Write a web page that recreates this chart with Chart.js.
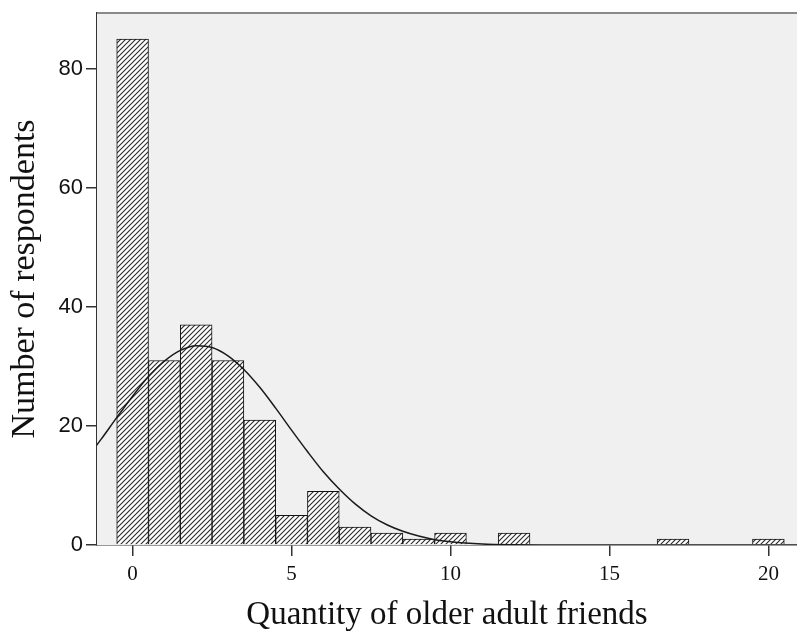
<!DOCTYPE html>
<html>
<head>
<meta charset="utf-8">
<script src="https://cdn.jsdelivr.net/npm/chart.js@4/dist/chart.umd.min.js"></script>
<style>
  html, body { margin: 0; padding: 0; background: #ffffff; }
  #wrap { width: 797px; height: 635px; position: relative; }
</style>
</head>
<body>
<div id="wrap"><canvas id="histChart"></canvas></div>
<script>
// histogram bins (number of older adult friends) and respondent counts
const binCenters = [0, 1, 2, 3, 4, 5, 6, 7, 8, 9, 10, 11, 12, 13, 14, 15, 16, 17, 18, 19, 20];
const counts = [85, 31, 37, 31, 21, 5, 9, 3, 2, 1, 2, 0, 2, 0, 0, 0, 0, 1, 0, 0, 1];

// fitted normal curve
const curveX = [-1.5, -1, -0.5, 0, 0.5, 1, 1.5, 2, 2.5, 3, 3.5, 4, 4.5, 5, 5.5, 6, 6.5, 7, 7.5, 8, 8.5, 9, 9.5, 10, 11, 12, 13, 14, 16, 18, 20, 21];
const curveY = [14.2, 17.7, 21.4, 25.0, 28.3, 30.9, 32.7, 33.5, 33.2, 31.8, 29.5, 26.5, 23.0, 19.3, 15.7, 12.3, 9.4, 6.9, 4.9, 3.4, 2.3, 1.5, 0.9, 0.55, 0.18, 0.05, 0.01, 0, 0, 0, 0, 0];

// axis ticks
const xTicks = [0, 5, 10, 15, 20];
const yTicks = [0, 20, 40, 60, 80];

// diagonal hatch fill for the bars
function makeHatch() {
    const n = 5;
    const c = document.createElement('canvas');
    c.width = n;
    c.height = n;
    const g = c.getContext('2d');
    g.fillStyle = '#ffffff';
    g.fillRect(0, 0, n, n);
    g.strokeStyle = '#2a2a2a';
    g.lineWidth = 1.1;
    g.beginPath();
    g.moveTo(0, n); g.lineTo(n, 0);
    g.moveTo(-1, 1); g.lineTo(1, -1);
    g.moveTo(n - 1, n + 1); g.lineTo(n + 1, n - 1);
    g.stroke();
    return g.createPattern(c, 'repeat');
}

// grey plot background + top frame line
const plotFrame = {
    id: 'plotFrame',
    beforeDatasetsDraw(chart) {
        const { ctx, chartArea: a } = chart;
        ctx.save();
        ctx.fillStyle = '#f0f0f0';
        ctx.fillRect(a.left, a.top, a.right - a.left, a.bottom - a.top);
        ctx.restore();
    },
    afterDraw(chart) {
        const { ctx, chartArea: a } = chart;
        ctx.save();
        ctx.strokeStyle = '#8a8a8a';
        ctx.lineWidth = 2;
        ctx.beginPath();
        ctx.moveTo(a.left, a.top);
        ctx.lineTo(a.right, a.top);
        ctx.stroke();
        ctx.restore();
    }
};

const ctx = document.getElementById('histChart').getContext('2d');
new Chart(ctx, {
    type: 'bar',
    data: {
        datasets: [{
            type: 'line',
            data: curveX.map((x, i) => ({ x: x, y: curveY[i] })),
            borderColor: '#1a1a1a',
            borderWidth: 1.5,
            pointRadius: 0,
            fill: false,
            cubicInterpolationMode: 'monotone',
            order: 0
        }, {
            type: 'bar',
            data: binCenters.map((x, i) => ({ x: x, y: counts[i] })),
            backgroundColor: makeHatch(),
            borderColor: '#111111',
            borderWidth: 1,
            barPercentage: 1,
            categoryPercentage: 1,
            order: 1
        }]
    },
    options: {
        responsive: true,
        maintainAspectRatio: false,
        animation: false,
        layout: { padding: { top: 13, left: 0, right: 0, bottom: 0 } },
        plugins: {
            legend: { display: false },
            tooltip: { enabled: false }
        },
        scales: {
            x: {
                type: 'linear',
                min: -1.12,
                max: 20.9,
                offset: false,
                afterBuildTicks: s => { s.ticks = xTicks.map(v => ({ value: v })); },
                afterFit: s => { s.height = 90; s.paddingLeft = 0; s.paddingRight = 0; },
                border: { display: true, color: '#333333', width: 1.5 },
                grid: { display: true, offset: false, drawOnChartArea: false, drawTicks: true, tickLength: 11, color: '#333333', lineWidth: 1.5 },
                ticks: {
                    maxRotation: 0,
                    padding: 6,
                    color: '#111111',
                    font: { family: 'Liberation Serif', size: 21 }
                },
                title: {
                    display: true,
                    text: 'Quantity of older adult friends',
                    color: '#111111',
                    padding: { top: 0, bottom: 0 },
                    font: { family: 'Liberation Serif', size: 33 }
                }
            },
            y: {
                min: 0,
                max: 89.4,
                afterBuildTicks: s => { s.ticks = yTicks.map(v => ({ value: v })); },
                afterFit: s => { s.width = 97; s.paddingTop = 0; s.paddingBottom = 0; },
                border: { display: true, color: '#333333', width: 1.5 },
                grid: { display: true, drawOnChartArea: false, drawTicks: true, tickLength: 11, color: '#333333', lineWidth: 1.5 },
                ticks: {
                    padding: 3,
                    color: '#111111',
                    font: { family: 'Liberation Sans', size: 22 }
                },
                title: {
                    display: true,
                    text: 'Number of respondents',
                    color: '#111111',
                    padding: { top: 5, bottom: 0 },
                    font: { family: 'Liberation Serif', size: 34 }
                }
            }
        }
    },
    plugins: [plotFrame]
});
</script>
</body>
</html>
